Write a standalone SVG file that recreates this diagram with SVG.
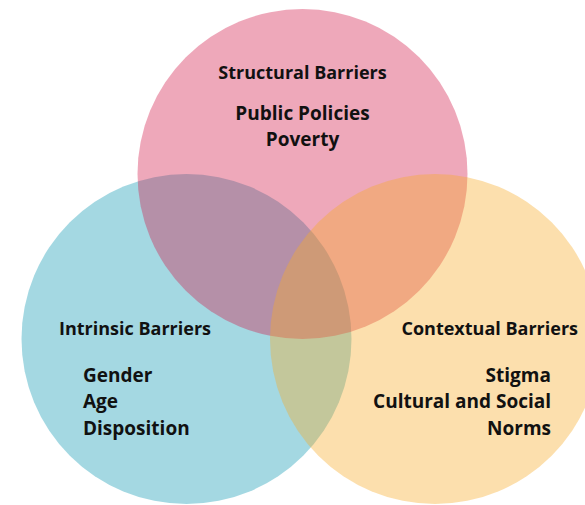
<svg xmlns="http://www.w3.org/2000/svg" width="585" height="505" viewBox="0 0 585 505">
<style>
.c{fill-opacity:0.38}
.h{font-family:"Open Sans","Liberation Sans",sans-serif;font-weight:bold;font-size:18px;fill:#111}
.t{font-family:"Open Sans","Liberation Sans",sans-serif;font-weight:bold;font-size:19px;fill:#111}
</style>
<rect width="585" height="505" fill="#fff"/>
<g id="intrinsic">
<circle class="c" cx="186.5" cy="339" r="165" fill="rgb(16,152,179)"/>
</g>
<g id="structural">
<circle class="c" cx="302.5" cy="174" r="165" fill="rgb(210,26,73)"/>
</g>
<g id="contextual">
<circle class="c" cx="435" cy="339" r="165" fill="rgb(247,171,39)"/>
</g>
<g id="labels">
<text class="h" x="302.5" y="79" text-anchor="middle">Structural Barriers</text>
<text class="t" x="302.5" y="120" text-anchor="middle">Public Policies</text>
<text class="t" x="302.5" y="146" text-anchor="middle">Poverty</text>
<text class="h" x="59" y="335">Intrinsic Barriers</text>
<text class="t" x="83" y="382">Gender</text>
<text class="t" x="83" y="408">Age</text>
<text class="t" x="83" y="435">Disposition</text>
<text class="h" x="578" y="335" text-anchor="end">Contextual Barriers</text>
<text class="t" x="551" y="382" text-anchor="end">Stigma</text>
<text class="t" x="551" y="408" text-anchor="end">Cultural and Social</text>
<text class="t" x="551" y="435" text-anchor="end">Norms</text>
</g>
<g id="connectors"/>
</svg>
